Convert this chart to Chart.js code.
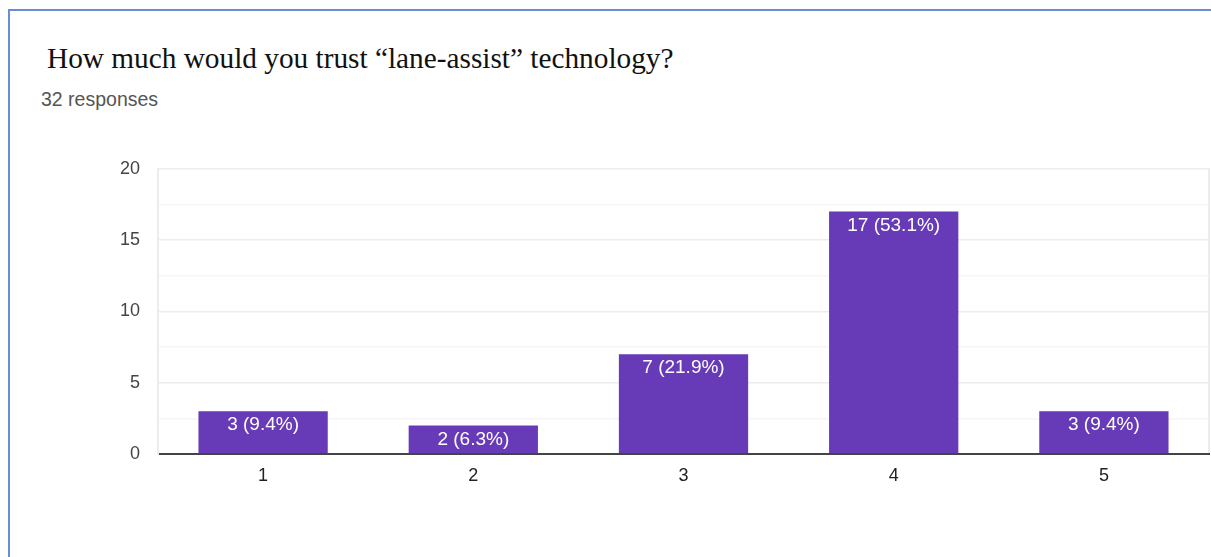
<!DOCTYPE html>
<html>
<head>
<meta charset="utf-8">
<script src="https://cdn.jsdelivr.net/npm/chart.js@4/dist/chart.umd.min.js"></script>
<style>
  body{margin:0;background:#fff;width:1211px;height:557px;overflow:hidden;position:relative;}
  #frame{position:absolute;left:8px;top:9px;right:-4px;bottom:-4px;border-left:2px solid #6a8bd6;border-top:2px solid #6a8bd6;}
  #titulo{position:absolute;left:47px;top:42px;font-family:"Liberation Serif","Times New Roman",serif;font-size:29.3px;color:#111;white-space:nowrap;}
  #resp{position:absolute;left:41px;top:88px;font-family:"Liberation Sans",Arial,sans-serif;font-size:19.5px;color:#555;white-space:nowrap;}
  #wrap{position:absolute;left:0;top:140px;width:1211px;height:360px;}
</style>
</head>
<body>
<div id="frame"></div>
<div id="titulo">How much would you trust “lane-assist” technology?</div>
<div id="resp">32 responses</div>
<div id="wrap"><canvas id="chartTrust"></canvas></div>
<script>
// datos
const categorias = ['1','2','3','4','5'];
const respuestas = [3,2,7,17,3];
const totalResp = 32;
const ticksY = [0,5,10,15,20];

const morado = '#673ab7';

// etiquetas dentro de cada barra: "n (x%)"
const etiquetasBarras = {
  id:'etiquetasBarras',
  afterDatasetsDraw(chart){
    const {ctx} = chart;
    const meta = chart.getDatasetMeta(0);
    ctx.save();
    ctx.fillStyle = '#fff';
    ctx.font = '19px "Liberation Sans", Arial, sans-serif';
    ctx.textAlign = 'center';
    ctx.textBaseline = 'middle';
    meta.data.forEach((bar,i)=>{
      const v = respuestas[i];
      const pct = (v/totalResp*100).toFixed(1);
      ctx.fillText(v+' ('+pct+'%)', bar.x, bar.y+14);
    });
    ctx.restore();
  }
};

new Chart(document.getElementById('chartTrust'),{
  type:'bar',
  data:{
    labels:categorias,
    datasets:[{data:respuestas,backgroundColor:morado,borderWidth:0,categoryPercentage:1,barPercentage:0.615}]
  },
  options:{
    responsive:true,
    maintainAspectRatio:false,
    animation:false,
    layout:{padding:{top:0,right:2,bottom:0,left:0}},
    plugins:{legend:{display:false},tooltip:{enabled:false}},
    scales:{
      x:{
        grid:{drawTicks:false,color:c=>c.type==='scale'?'#ececec':'transparent',lineWidth:2},
        border:{color:'#444',width:2},
        ticks:{color:'#222',padding:11,font:{family:'"Liberation Sans", Arial, sans-serif',size:18}},
        afterFit(s){s.height=46;}
      },
      y:{
        min:0,max:20,
        grid:{drawTicks:false,
          color:c=>c.tick.value===0?'#444':(c.tick.value%5===0?'#ececec':'#f6f6f6'),
          lineWidth:c=>c.tick.value===0?2:1.5},
        border:{color:'#ececec',width:2},
        ticks:{stepSize:2.5,color:'#444',padding:18,autoSkip:false,
          font:{family:'"Liberation Sans", Arial, sans-serif',size:18},
          callback:v=>ticksY.includes(v)?String(v):''},
        afterFit(s){s.width=158;}
      }
    }
  },
  plugins:[etiquetasBarras]
});
</script>
</body>
</html>
